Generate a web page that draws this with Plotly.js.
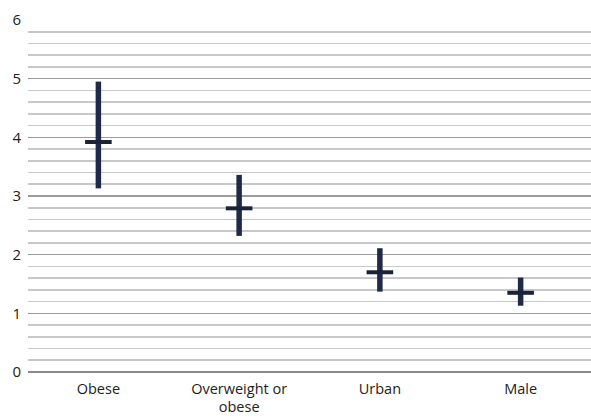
<!DOCTYPE html>
<html>
<head>
<meta charset="utf-8">
<script src="https://cdn.plot.ly/plotly-3.0.1.min.js"></script>
<style>html,body{margin:0;padding:0;background:#fff;}#chart{width:591px;height:418px;}</style>
</head>
<body>
<div id="chart"></div>
<script>
var categories = ["Obese", "Overweight or<br>obese", "Urban", "Male"];
var estimates = [3.92, 2.79, 1.70, 1.35];
var lower = [3.13, 2.32, 1.37, 1.13];
var upper = [4.95, 3.36, 2.11, 1.61];
var yTicks = [0, 1, 2, 3, 4, 5, 6];

var plus = upper.map(function (u, i) { return u - estimates[i]; });
var minus = lower.map(function (l, i) { return estimates[i] - l; });

var trace = {
  type: "scatter",
  mode: "markers",
  x: categories,
  y: estimates,
  marker: {
    symbol: "line-ew",
    size: 19,
    color: "#1a2238",
    line: { width: 4, color: "#1a2238" }
  },
  error_y: {
    type: "data",
    symmetric: false,
    array: plus,
    arrayminus: minus,
    color: "#1f2a48",
    thickness: 5.5,
    width: 0
  },
  hoverinfo: "none"
};

var layout = {
  width: 591,
  height: 418,
  margin: { l: 28, r: 0, t: 20, b: 46 },
  paper_bgcolor: "#ffffff",
  plot_bgcolor: "#ffffff",
  showlegend: false,
  font: { family: "Open Sans, Noto Sans, sans-serif", size: 14, color: "#222222" },
  xaxis: {
    type: "category",
    range: [-0.5, 3.5],
    showgrid: false,
    zeroline: false,
    showline: false,
    ticks: "",
    ticklabelstandoff: 6,
    tickfont: { size: 14.5, color: "#222222" },
    fixedrange: true
  },
  yaxis: {
    range: [0, 6],
    tickvals: yTicks,
    ticktext: yTicks.map(String),
    showgrid: true,
    gridcolor: "#9c9c9c",
    gridwidth: 1.6,
    zeroline: true,
    zerolinecolor: "#888888",
    zerolinewidth: 1.8,
    showline: false,
    ticks: "",
    ticklabelstandoff: 6,
    tickfont: { size: 15, color: "#222222" },
    minor: {
      dtick: 0.2,
      tick0: 0,
      showgrid: true,
      gridcolor: "#c8c8c8",
      gridwidth: 1.6,
      ticks: ""
    },
    fixedrange: true
  }
};

Plotly.newPlot("chart", [trace], layout, { displayModeBar: false, staticPlot: true });
</script>
</body>
</html>
